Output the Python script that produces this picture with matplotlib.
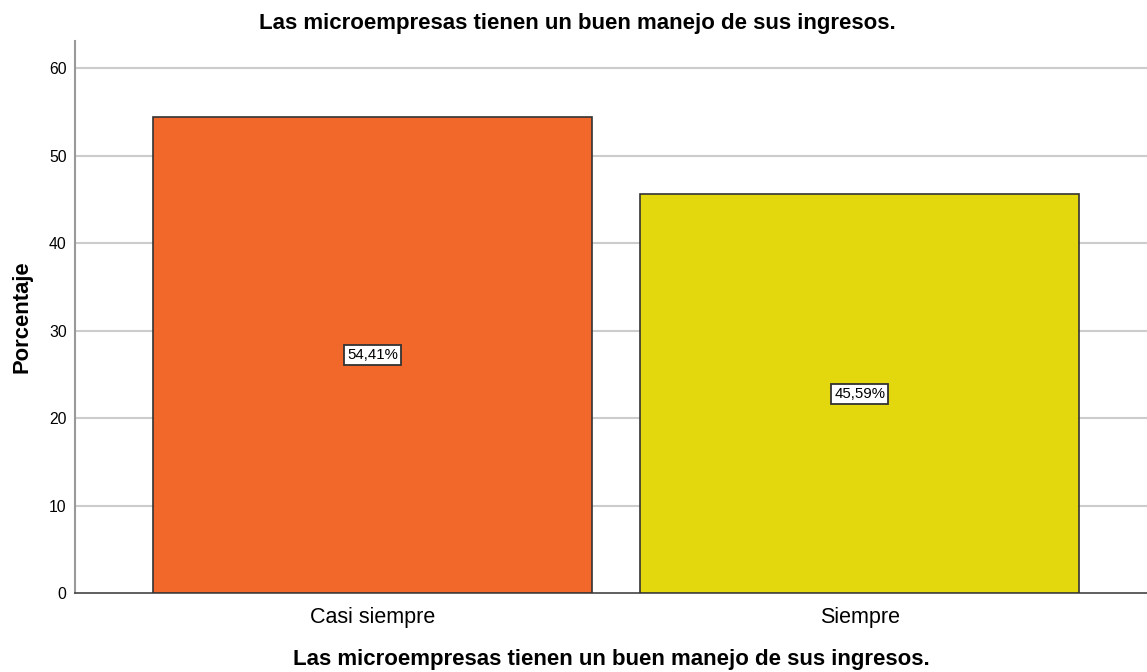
import matplotlib
matplotlib.use("Agg")
import matplotlib.pyplot as plt

categories = ["Casi siempre", "Siempre"]
values = [54.41, 45.59]
labels = ["54,41%", "45,59%"]
colors = ["#F2672A", "#E3D70E"]
yticks = [0, 10, 20, 30, 40, 50, 60]

plt.rcParams['font.family'] = ['Liberation Sans', 'DejaVu Sans']

fig = plt.figure(figsize=(11.47, 6.72), dpi=100)
ax = fig.add_axes([75/1147, 79/672, 1 - 75/1147, (593-41)/672])

x = list(range(len(categories)))
ax.bar(x, values, width=0.9, color=colors, edgecolor="#333333", linewidth=1.2, zorder=3)

for xi, v, lab in zip(x, values, labels):
    ax.text(xi, v/2, lab, ha="center", va="center", fontsize=10.8, color="black",
            bbox=dict(boxstyle="square,pad=0.2", fc="white", ec="#333333", lw=1.3), zorder=4)

ax.set_xlim(-0.611, 1.59)
ax.set_ylim(0, 63.1)
ax.set_yticks(yticks)
ax.set_yticklabels([str(t) for t in yticks], fontsize=11.3)
ax.set_xticks(x)
ax.set_xticklabels(categories, fontsize=15.5)
ax.tick_params(axis="x", length=0, pad=10)
ax.tick_params(axis="y", length=0, pad=6)

for t in yticks[1:]:
    ax.axhline(t, color="#cccccc", lw=1.5, zorder=1)

for s in ["top", "right"]:
    ax.spines[s].set_visible(False)
ax.spines["left"].set_color("#999999")
ax.spines["left"].set_linewidth(1.5)
ax.spines["bottom"].set_color("#444444")
ax.spines["bottom"].set_linewidth(1.2)

ax.set_ylabel("Porcentaje", fontsize=15.8, fontweight="bold", labelpad=12)
ax.set_xlabel("Las microempresas tienen un buen manejo de sus ingresos.", fontsize=16,
              fontweight="bold", labelpad=15)
fig.text(577/1147, 1 - 24/672, "Las microempresas tienen un buen manejo de sus ingresos.",
         ha="center", va="center", fontsize=16, fontweight="bold")

fig.savefig("out.png", dpi=100)
